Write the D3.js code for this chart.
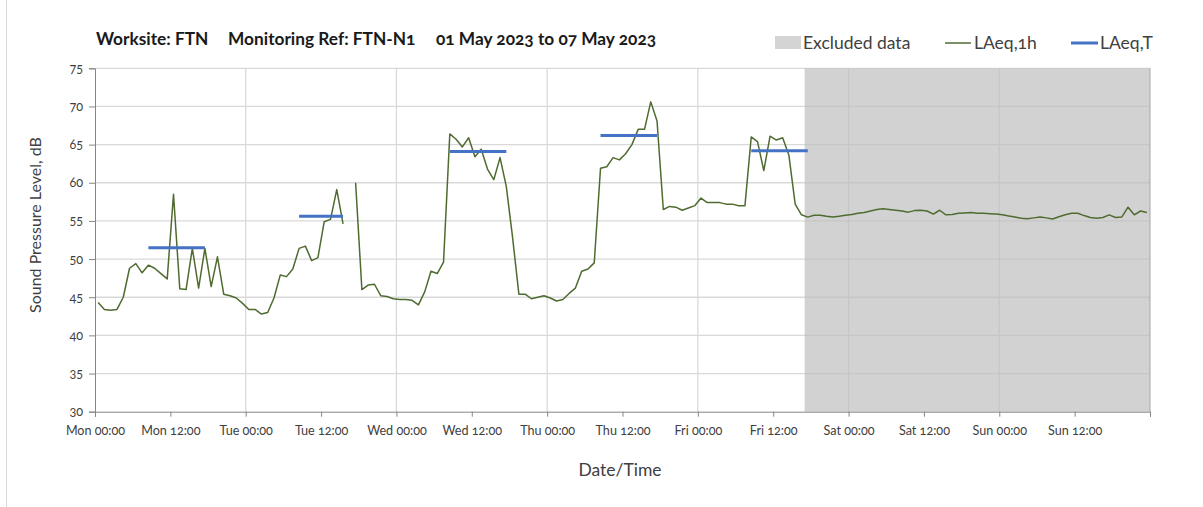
<!DOCTYPE html>
<html>
<head>
<meta charset="utf-8">
<script src="https://cdn.jsdelivr.net/npm/d3@7"></script>
<style>
  body { margin: 0; background: #fff; }
  svg { font-family: Lato, "Open Sans", sans-serif; font-variant-numeric: oldstyle-nums; }
</style>
</head>
<body>
<svg id="chart" width="1203" height="507"></svg>
<script>
// Data
// ----
const dayLabels = ["Mon", "Tue", "Wed", "Thu", "Fri", "Sat", "Sun"];
const yTicks = [30, 35, 40, 45, 50, 55, 60, 65, 70, 75];

// hourly LAeq,1h, Mon 00:00 .. Sun 23:00 (null = no data)
const laeq1h = [
  44.3, 43.4, 43.3, 43.4, 45.0, 48.8, 49.4, 48.2, 49.2, 48.8, 48.1, 47.4,
  58.5, 46.1, 46.0, 51.4, 46.2, 51.4, 46.4, 50.3, 45.4, 45.2, 44.9, 44.2,
  43.4, 43.4, 42.8, 43.0, 44.9, 47.9, 47.7, 48.7, 51.4, 51.7, 49.8, 50.2,
  54.9, 55.2, 59.1, 54.6, null, 60.0, 46.0, 46.6, 46.7, 45.2, 45.1, 44.8,
  44.7, 44.7, 44.6, 44.0, 45.7, 48.4, 48.1, 49.6, 66.4, 65.7, 64.7, 65.9,
  63.4, 64.4, 61.8, 60.4, 63.3, 59.5, 52.8, 45.4, 45.4, 44.8, 45.0, 45.2,
  44.9, 44.5, 44.7, 45.5, 46.2, 48.4, 48.7, 49.5, 61.9, 62.1, 63.3, 63.0,
  63.8, 65.0, 67.0, 67.0, 70.6, 68.1, 56.5, 56.9, 56.8, 56.4, 56.7, 57.0,
  58.0, 57.4, 57.4, 57.4, 57.2, 57.2, 57.0, 57.0, 66.0, 65.4, 61.6, 66.1,
  65.6, 65.9, 63.6, 57.2, 55.8, 55.5, 55.75, 55.75, 55.6, 55.5, 55.6, 55.75,
  55.85, 56.0, 56.1, 56.3, 56.5, 56.6, 56.5, 56.4, 56.3, 56.15, 56.35, 56.4,
  56.3, 55.9, 56.4, 55.8, 55.85, 56.0, 56.05, 56.1, 56.0, 56.0, 55.95, 55.9,
  55.8, 55.65, 55.5, 55.35, 55.3, 55.4, 55.5, 55.4, 55.25, 55.55, 55.8, 56.0,
  56.0, 55.7, 55.45, 55.35, 55.45, 55.8, 55.45, 55.5, 56.8, 55.8, 56.3, 56.1
];

// LAeq,T daytime periods (hour index of first and last hourly value)
const laeqTStart = [8, 32, 56, 80, 104];
const laeqTEnd = [17, 39, 65, 89, 113];
const laeqTValues = [51.5, 55.6, 64.1, 66.2, 64.2];

// excluded data window, hours from Mon 00:00
const excludedStart = 113;
const excludedEnd = 168;

// Layout
// ------
const svg = d3.select("#chart");
const plotLeft = 95, plotRight = 1150, plotTop = 68.3, plotBottom = 411.7;

const x = d3.scaleLinear().domain([0, 168]).range([plotLeft, plotRight]);
const y = d3.scaleLinear().domain([30, 75]).range([plotBottom, plotTop]);

// outer chart border (left edge only visible)
svg.append("line")
  .attr("x1", 6.5).attr("x2", 6.5).attr("y1", 0).attr("y2", 507)
  .attr("stroke", "#d9d9d9");

// gridlines
const grid = svg.append("g");
grid.selectAll(".hg").data(yTicks.filter(d => d > 30)).join("line")
  .attr("x1", plotLeft).attr("x2", plotRight)
  .attr("y1", d => y(d)).attr("y2", d => y(d))
  .attr("stroke", "#d9d9d9").attr("stroke-width", 1.3);
grid.selectAll(".vg").data(d3.range(24, 168, 24)).join("line")
  .attr("x1", d => x(d)).attr("x2", d => x(d))
  .attr("y1", plotTop).attr("y2", plotBottom)
  .attr("stroke", "#d9d9d9").attr("stroke-width", 1.3);

// excluded data shading
svg.append("rect")
  .attr("x", x(excludedStart)).attr("y", plotTop)
  .attr("width", x(excludedEnd) - x(excludedStart))
  .attr("height", plotBottom - plotTop)
  .attr("fill", "#bdbdbd").attr("opacity", 0.68);

// right border of plot
svg.append("line")
  .attr("x1", plotRight).attr("x2", plotRight).attr("y1", plotTop).attr("y2", plotBottom)
  .attr("stroke", "#a6a6a6");

// axes
const xAxis = d3.axisBottom(x)
  .tickValues(d3.range(0, 169, 12))
  .tickSize(5)
  .tickFormat(d => d >= 168 ? "" : dayLabels[Math.floor(d / 24)] + (d % 24 === 0 ? " 00:00" : " 12:00"));
const gx = svg.append("g").attr("transform", `translate(0,${plotBottom})`).call(xAxis);
gx.select(".domain").attr("stroke", "#868686");
gx.selectAll(".tick line").attr("stroke", "#868686");
gx.selectAll("text").attr("font-size", 12.6).attr("fill", "#404040").attr("dy", "1.25em")
  .attr("font-family", "Lato, sans-serif");

const yAxis = d3.axisLeft(y).tickValues(yTicks).tickSize(6).tickPadding(6);
const gy = svg.append("g").attr("transform", `translate(${plotLeft},0)`).call(yAxis);
gy.select(".domain").attr("stroke", "#868686");
gy.selectAll(".tick line").attr("stroke", "#868686");
gy.selectAll("text").attr("font-size", 12.6).attr("fill", "#404040")
  .attr("font-family", "Lato, sans-serif");

// LAeq,1h line
const line = d3.line()
  .defined(d => d != null)
  .x((d, i) => x(i + 0.5))
  .y(d => y(d));
svg.append("path")
  .datum(laeq1h)
  .attr("d", line)
  .attr("fill", "none")
  .attr("stroke", "#4f6b30")
  .attr("stroke-width", 1.5)
  .attr("stroke-linejoin", "round");

// LAeq,T bars
svg.append("g").selectAll("line").data(laeqTValues).join("line")
  .attr("x1", (d, i) => x(laeqTStart[i] + 0.5))
  .attr("x2", (d, i) => x(laeqTEnd[i] + 0.5))
  .attr("y1", d => y(d)).attr("y2", d => y(d))
  .attr("stroke", "#4472c4").attr("stroke-width", 3);

// Titles
// ------
const title = svg.append("g").attr("font-weight", "bold").attr("font-size", 17.3).attr("fill", "#1a1a1a");
title.append("text").attr("x", 96).attr("y", 45).text("Worksite: FTN");
title.append("text").attr("x", 228).attr("y", 45).text("Monitoring Ref: FTN-N1");
title.append("text").attr("x", 436).attr("y", 45).text("01 May 2023 to 07 May 2023");

svg.append("text")
  .attr("x", 620).attr("y", 476)
  .attr("text-anchor", "middle")
  .attr("font-size", 17.5).attr("fill", "#404040")
  .text("Date/Time");

svg.append("text")
  .attr("transform", "translate(41,225) rotate(-90)")
  .attr("text-anchor", "middle")
  .attr("font-size", 16).attr("fill", "#404040")
  .text("Sound Pressure Level, dB");

// Legend
// ------
const legend = svg.append("g").attr("font-size", 17.5).attr("fill", "#404040");
legend.append("rect").attr("x", 775).attr("y", 36).attr("width", 26).attr("height", 13).attr("fill", "#d4d4d4");
legend.append("text").attr("x", 803).attr("y", 49).text("Excluded data");
legend.append("line").attr("x1", 945).attr("x2", 971).attr("y1", 43).attr("y2", 43)
  .attr("stroke", "#4f6b30").attr("stroke-width", 1.5);
legend.append("text").attr("x", 974).attr("y", 49).text("LAeq,1h");
legend.append("line").attr("x1", 1071).attr("x2", 1098).attr("y1", 43).attr("y2", 43)
  .attr("stroke", "#4472c4").attr("stroke-width", 3);
legend.append("text").attr("x", 1100).attr("y", 49).text("LAeq,T");
</script>
</body>
</html>
